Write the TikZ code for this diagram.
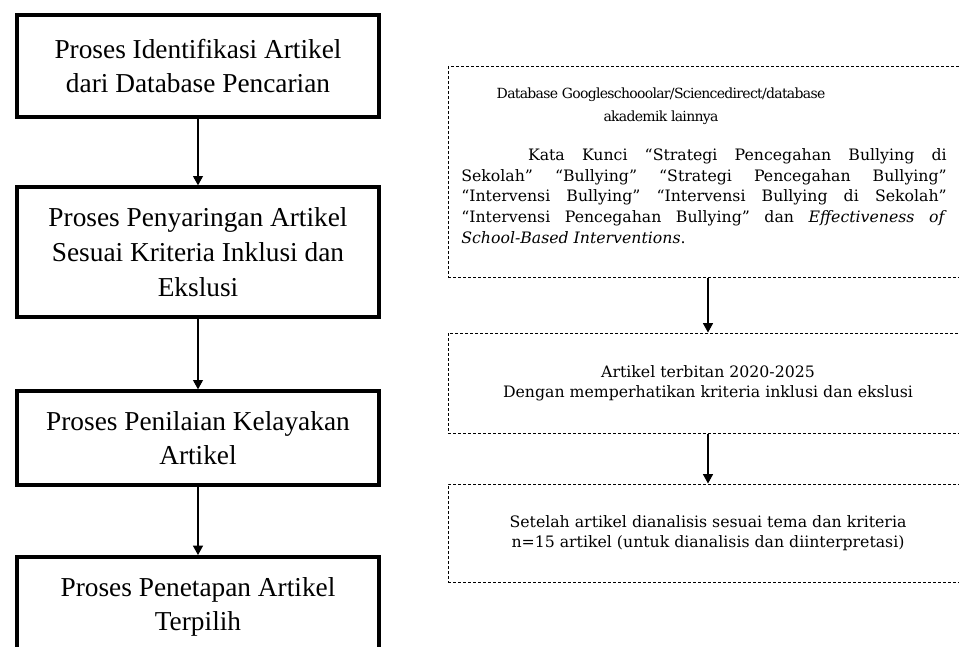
\documentclass[tikz,border=0pt]{standalone}
\usepackage{fontspec}
\setmainfont{Liberation Serif}
\newfontfamily\slabfont{DejaVu Serif}
\newfontfamily\slabtight[LetterSpace=-5]{DejaVu Serif}
\usetikzlibrary{arrows.meta}

\begin{document}
\begin{tikzpicture}[
        x=0.75pt,y=-0.75pt,
        stage/.style={draw,line width=3pt,minimum width=272pt,inner sep=0pt,
            align=center,font=\fontsize{20.5}{26}\selectfont},
        screen/.style={draw,line width=0.75pt,dash pattern=on 2.25pt off 1.5pt,
            minimum width=390pt,inner sep=0pt,align=center,
            font=\slabfont\fontsize{11.8}{15}\selectfont},
        words/.style={inner sep=0pt,font=\slabfont\fontsize{11.8}{15.5}\selectfont},
        flow/.style={line width=0.8pt,-{Triangle[width=7.5pt,length=7pt]}}
    ]
    \useasboundingbox (0,0) rectangle (959,646);
    % left column: the four steps
    \node[stage,minimum height=76pt] (ident) at (198,66)
        {Proses Identifikasi Artikel\\dari Database Pencarian};
    \node[stage,minimum height=97pt] (saring) at (198,252)
        {Proses Penyaringan Artikel\\Sesuai Kriteria Inklusi dan\\Ekslusi};
    \node[stage,minimum height=70pt] (nilai) at (198,438)
        {Proses Penilaian Kelayakan\\Artikel};
    \node[stage,minimum height=75pt] (tetap) at (198,607)
        {Proses Penetapan Artikel\\Terpilih};
    \draw[flow] (ident) -- (saring);
    \draw[flow] (saring) -- (nilai);
    \draw[flow] (nilai) -- (tetap);
    % right column: runs off the page on the right, as in the scan
    \node[screen,minimum height=158pt] (dbbox) at (708,172) {};
    \node[words,align=center,font=\slabtight\fontsize{10.5}{17}\selectfont] (dbtitle) at (661,106)
        {Database Googleschooolar/Sciencedirect/database\\akademik lainnya};
    \node[words,text width=364pt,align=justify] (kwtext) at (704,196)
        {\hspace*{50pt}Kata Kunci “Strategi Pencegahan Bullying di\linebreak
        Sekolah” “Bullying” “Strategi Pencegahan Bullying”\linebreak
        “Intervensi Bullying” “Intervensi Bullying di Sekolah”\linebreak
        “Intervensi Pencegahan Bullying” dan \emph{Effectiveness of}\linebreak
        \emph{School-Based Interventions}.};
    \node[screen,minimum height=75pt] (terbit) at (708,383)
        {Artikel terbitan 2020-2025\\Dengan memperhatikan kriteria inklusi dan ekslusi};
    \node[screen,minimum height=73.5pt] (analisis) at (708,533)
        {Setelah artikel dianalisis sesuai tema dan kriteria\\n=15 artikel (untuk dianalisis dan diinterpretasi)};
    \draw[flow] (dbbox) -- (terbit);
    \draw[flow] (terbit) -- (analisis);
\end{tikzpicture}
\end{document}
